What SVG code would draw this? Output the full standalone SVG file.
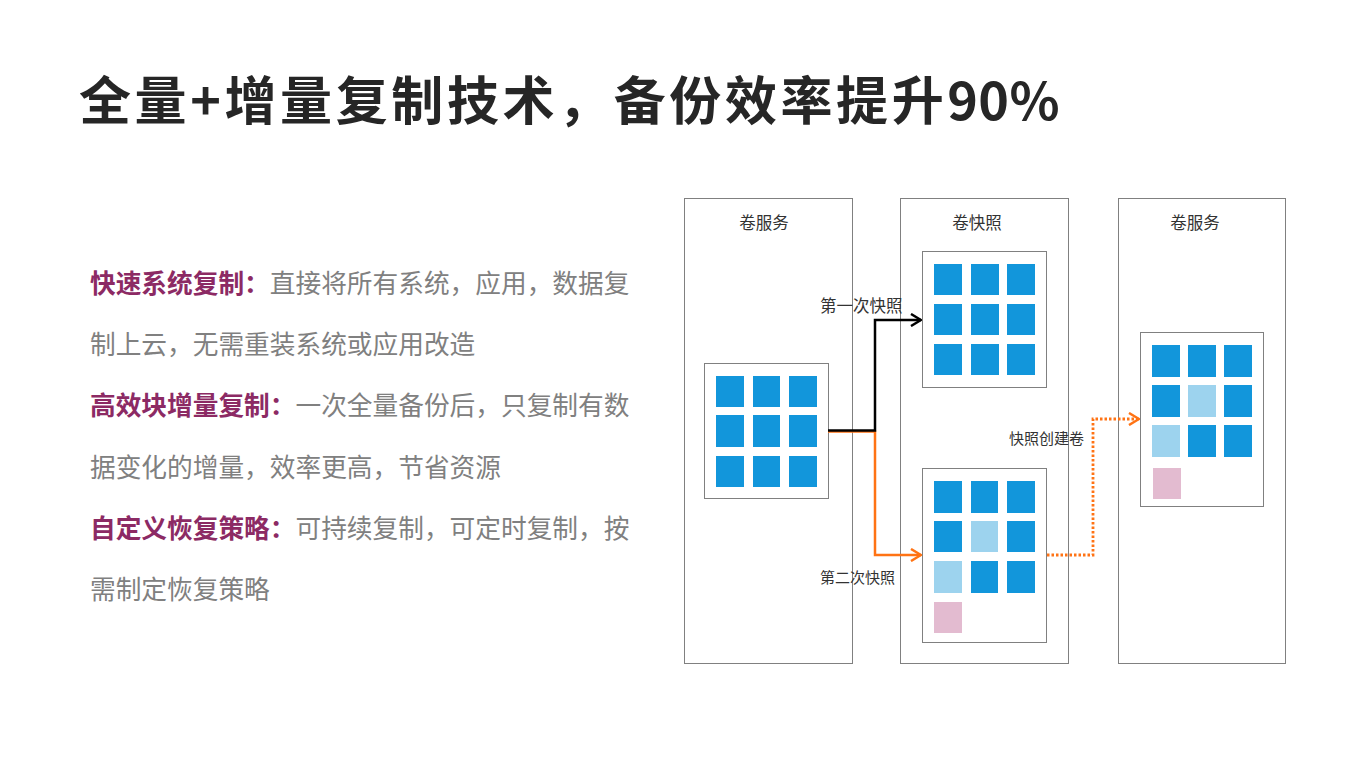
<svg xmlns="http://www.w3.org/2000/svg" width="1366" height="768" viewBox="0 0 1366 768">
<style>
.title{font-family:"Noto Sans CJK SC","Liberation Sans",sans-serif;font-weight:700;font-size:52px;letter-spacing:3.6px;fill:#262626}
.num{letter-spacing:0.4px}
.body{font-family:"Noto Sans CJK SC","Liberation Sans",sans-serif;font-size:25.7px;fill:#808080}
.hl{font-weight:700;fill:#8c2a64}
.lbl{font-family:"Noto Sans CJK SC","Liberation Sans",sans-serif;fill:#333}
.box{fill:none;stroke:#000;stroke-width:1;stroke-dasharray:1 1}
.b{fill:#1296db}
.l{fill:#9dd3ee}
.p{fill:#e3bbd0}
</style>
<defs>
<marker id="arrK" viewBox="0 0 12 14" refX="11" refY="7" markerWidth="12" markerHeight="14" markerUnits="userSpaceOnUse" orient="auto">
<path d="M1,1 L11,7 L1,13" fill="none" stroke="#000" stroke-width="2.5"/>
</marker>
<marker id="arrO" viewBox="0 0 12 14" refX="11" refY="7" markerWidth="12" markerHeight="14" markerUnits="userSpaceOnUse" orient="auto">
<path d="M1,1 L11,7 L1,13" fill="none" stroke="#ff7314" stroke-width="2.5"/>
</marker>
</defs>
<rect width="1366" height="768" fill="#fff"/>
<text class="title" x="79" y="120">全量+增量复制技术，备份效率提升<tspan class="num">90%</tspan></text>
<g id="desc">
<text class="body" x="90" y="293"><tspan class="hl">快速系统复制：</tspan>直接将所有系统，应用，数据复</text>
<text class="body" x="90" y="354">制上云，无需重装系统或应用改造</text>
<text class="body" x="90" y="415"><tspan class="hl">高效块增量复制：</tspan>一次全量备份后，只复制有数</text>
<text class="body" x="90" y="477">据变化的增量，效率更高，节省资源</text>
<text class="body" x="90" y="538"><tspan class="hl">自定义恢复策略：</tspan>可持续复制，可定时复制，按</text>
<text class="body" x="90" y="599">需制定恢复策略</text>
</g>
<g id="service1">
<rect class="box" x="684.5" y="198.5" width="168" height="465"/>
<text class="lbl" x="764" y="229" font-size="16.5" text-anchor="middle">卷服务</text>
<rect class="box" x="704.5" y="363.5" width="124" height="135"/>
<rect class="b" x="716" y="376" width="28" height="31"/><rect class="b" x="753" y="376" width="27" height="31"/><rect class="b" x="789" y="376" width="28" height="31"/>
<rect class="b" x="716" y="415" width="28" height="32"/><rect class="b" x="753" y="415" width="27" height="32"/><rect class="b" x="789" y="415" width="28" height="32"/>
<rect class="b" x="716" y="456" width="28" height="31"/><rect class="b" x="753" y="456" width="27" height="31"/><rect class="b" x="789" y="456" width="28" height="31"/>
</g>
<g id="snapshot">
<rect class="box" x="900.5" y="198.5" width="168" height="465"/>
<text class="lbl" x="977" y="229" font-size="16.5" text-anchor="middle">卷快照</text>
</g>
<g id="snap1">
<rect class="box" x="922.5" y="251.5" width="124" height="136"/>
<rect class="b" x="934" y="264" width="28" height="31"/><rect class="b" x="971" y="264" width="28" height="31"/><rect class="b" x="1007" y="264" width="28" height="31"/>
<rect class="b" x="934" y="304" width="28" height="31"/><rect class="b" x="971" y="304" width="28" height="31"/><rect class="b" x="1007" y="304" width="28" height="31"/>
<rect class="b" x="934" y="344" width="28" height="31"/><rect class="b" x="971" y="344" width="28" height="31"/><rect class="b" x="1007" y="344" width="28" height="31"/>
</g>
<g id="snap2">
<rect class="box" x="922.5" y="468.5" width="124" height="174"/>
<rect class="b" x="934" y="481" width="28" height="32"/><rect class="b" x="971" y="481" width="27" height="32"/><rect class="b" x="1007" y="481" width="28" height="32"/>
<rect class="b" x="934" y="521" width="28" height="31"/><rect class="l" x="971" y="521" width="27" height="31"/><rect class="b" x="1007" y="521" width="28" height="31"/>
<rect class="l" x="934" y="561" width="28" height="32"/><rect class="b" x="971" y="561" width="27" height="32"/><rect class="b" x="1007" y="561" width="28" height="32"/>
<rect class="p" x="934" y="602" width="28" height="31"/>
</g>
<g id="service2">
<rect class="box" x="1118.5" y="198.5" width="167" height="465"/>
<text class="lbl" x="1195" y="229" font-size="16.5" text-anchor="middle">卷服务</text>
<rect class="box" x="1140.5" y="332.5" width="123" height="174"/>
<rect class="b" x="1152" y="345" width="28" height="32"/><rect class="b" x="1188" y="345" width="28" height="32"/><rect class="b" x="1224" y="345" width="28" height="32"/>
<rect class="b" x="1152" y="385" width="28" height="32"/><rect class="l" x="1188" y="385" width="28" height="32"/><rect class="b" x="1224" y="385" width="28" height="32"/>
<rect class="l" x="1152" y="425" width="28" height="32"/><rect class="b" x="1188" y="425" width="28" height="32"/><rect class="b" x="1224" y="425" width="28" height="32"/>
<rect class="p" x="1153" y="468" width="28" height="31"/>
</g>
<g id="connectors" fill="none">
<path d="M828,431.5 H875 V555 H921" stroke="#ff7314" stroke-width="2.5" marker-end="url(#arrO)"/>
<path d="M828,430.5 H875 V320 H921" stroke="#000" stroke-width="2.5" marker-end="url(#arrK)"/>
<path d="M1047,555 H1093 V419 H1139" stroke="#ff7314" stroke-width="2.8" stroke-dasharray="2.5 2" marker-end="url(#arrO)"/>
<text class="lbl" x="820" y="312" font-size="16.5" stroke="none">第一次快照</text>
<text class="lbl" x="820" y="583" font-size="15" stroke="none">第二次快照</text>
<text class="lbl" x="1009" y="444" font-size="15" stroke="none">快照创建卷</text>
</g>
</svg>
